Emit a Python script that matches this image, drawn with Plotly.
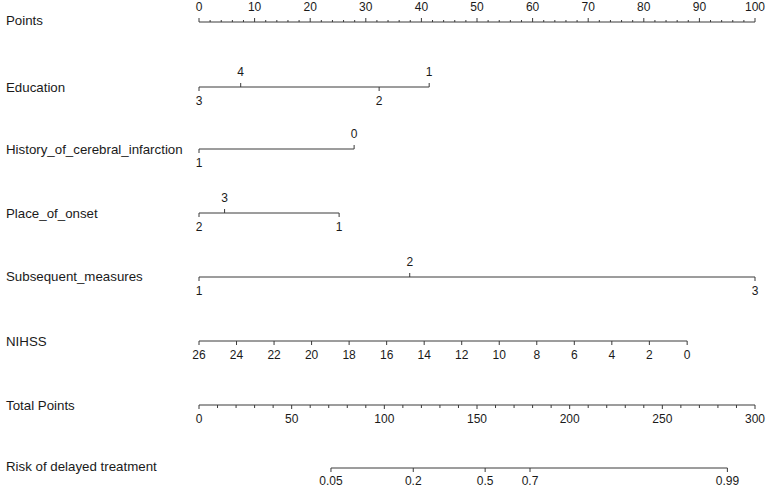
import plotly.graph_objects as go

# ---------------- data ----------------
points_major = [0, 10, 20, 30, 40, 50, 60, 70, 80, 90, 100]
points_minor = [2, 4, 6, 8, 12, 14, 16, 18, 22, 24, 26, 28, 32, 34, 36, 38, 42, 44, 46, 48,
                52, 54, 56, 58, 62, 64, 66, 68, 72, 74, 76, 78, 82, 84, 86, 88, 92, 94, 96, 98]

education_levels = ["3", "4", "2", "1"]
education_points = [0, 7.5, 32.4, 41.4]

history_levels = ["1", "0"]
history_points = [0, 27.9]

place_levels = ["2", "3", "1"]
place_points = [0, 4.6, 25.2]

subsequent_levels = ["1", "2", "3"]
subsequent_points = [0, 37.9, 100]

nihss_values = [26, 24, 22, 20, 18, 16, 14, 12, 10, 8, 6, 4, 2, 0]
nihss_points = [0, 6.75, 13.5, 20.25, 27.0, 33.75, 40.5, 47.25, 54.0, 60.75, 67.5, 74.25, 81.0, 87.8]

total_major = [0, 50, 100, 150, 200, 250, 300]
total_minor = [10, 20, 30, 40, 60, 70, 80, 90, 110, 120, 130, 140, 160, 170, 180, 190,
               210, 220, 230, 240, 260, 270, 280, 290]
total_max = 300

risk_labels = ["0.05", "0.2", "0.5", "0.7", "0.99"]
risk_total_points = [71.2, 115.6, 154.4, 178.6, 285.1]

row_names = ["Points", "Education", "History_of_cerebral_infarction", "Place_of_onset",
             "Subsequent_measures", "NIHSS", "Total Points", "Risk of delayed treatment"]

# ---------------- layout constants ----------------
W, H = 767, 491
X0, X1 = 199, 755          # pixel of 0 and 100 points
PPU = (X1 - X0) / 100.0
LINE = "#3a3a3a"
TXT = "#1a1a1a"
FONT = "Liberation Sans, Arial, sans-serif"

row_label_y = [20, 87, 149, 213, 276, 341, 405, 466]
line_y = {"Points": 22, "Education": 87, "History": 149, "Place": 213,
          "Subsequent": 277, "NIHSS": 341, "Total": 405, "Risk": 468}

fig = go.Figure()


def add_segments(xs_pairs, ys_pairs, width=1):
    xs, ys = [], []
    for (xa, xb), (ya, yb) in zip(xs_pairs, ys_pairs):
        xs += [xa, xb, None]
        ys += [ya, yb, None]
    fig.add_trace(go.Scatter(x=xs, y=ys, mode="lines", line=dict(color=LINE, width=width),
                             hoverinfo="skip", showlegend=False))


def add_text(xs, ys, texts, size=12):
    fig.add_trace(go.Scatter(x=xs, y=ys, mode="text", text=texts,
                             textfont=dict(family=FONT, size=size, color=TXT),
                             textposition="middle center", hoverinfo="skip", showlegend=False))


# Points axis (ticks upward, labels above)
y = line_y["Points"]
add_segments([(0, 100)], [(y, y)])
add_segments([(v, v) for v in points_major], [(y, y - 4)] * len(points_major))
add_segments([(v, v) for v in points_minor], [(y, y - 2)] * len(points_minor))
add_text(points_major, [8] * len(points_major), [str(v) for v in points_major])


# Categorical rows: labels alternate below/above by sorted position
def cat_row(levels, pts, y):
    add_segments([(min(pts), max(pts))], [(y, y)])
    order = sorted(range(len(pts)), key=lambda i: pts[i])
    for k, i in enumerate(order):
        if k % 2 == 0:  # below
            add_segments([(pts[i], pts[i])], [(y, y + 4)])
            add_text([pts[i]], [y + 15], [levels[i]])
        else:           # above
            add_segments([(pts[i], pts[i])], [(y, y - 4)])
            add_text([pts[i]], [y - 14], [levels[i]])


cat_row(education_levels, education_points, line_y["Education"])
cat_row(history_levels, history_points, line_y["History"])
cat_row(place_levels, place_points, line_y["Place"])
cat_row(subsequent_levels, subsequent_points, line_y["Subsequent"])

# NIHSS
y = line_y["NIHSS"]
add_segments([(min(nihss_points), max(nihss_points))], [(y, y)])
add_segments([(p, p) for p in nihss_points], [(y, y + 4)] * len(nihss_points))
add_text(nihss_points, [y + 15] * len(nihss_points), [str(v) for v in nihss_values])

# Total points (scaled to points axis)
y = line_y["Total"]
sc = 100.0 / total_max
add_segments([(0, 100)], [(y, y)])
add_segments([(v * sc, v * sc) for v in total_major], [(y, y + 4)] * len(total_major))
add_segments([(v * sc, v * sc) for v in total_minor], [(y, y + 3)] * len(total_minor))
add_text([v * sc for v in total_major], [y + 15] * len(total_major), [str(v) for v in total_major])

# Risk
y = line_y["Risk"]
rx = [v * sc for v in risk_total_points]
add_segments([(min(rx), max(rx))], [(y, y)])
add_segments([(v, v) for v in rx], [(y, y + 4)] * len(rx))
add_text(rx, [y + 14] * len(rx), risk_labels)

# Row labels
annotations = [dict(x=4 / W, xref="paper", y=yy, yref="y", text=name, showarrow=False,
                    xanchor="left", yanchor="middle",
                    font=dict(family=FONT, size=13.3, color=TXT))
               for name, yy in zip(row_names, row_label_y)]

fig.update_layout(
    width=W, height=H,
    margin=dict(l=0, r=0, t=0, b=0),
    paper_bgcolor="white", plot_bgcolor="white",
    xaxis=dict(range=[-X0 / PPU, (W - X0) / PPU], visible=False, fixedrange=True),
    yaxis=dict(range=[H, 0], visible=False, fixedrange=True),
    annotations=annotations,
    showlegend=False,
)

fig.write_html("out.html")
